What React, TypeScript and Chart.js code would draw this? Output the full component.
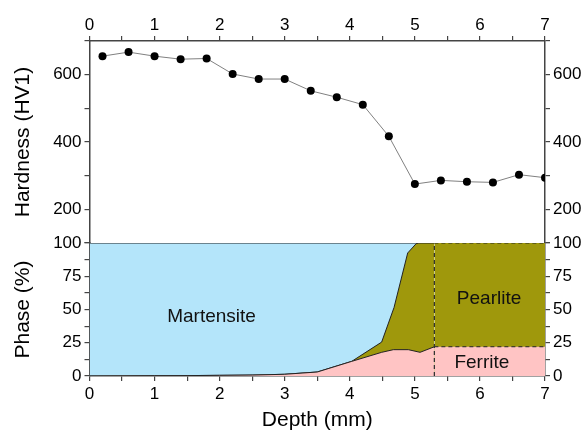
import React, { useEffect, useRef } from 'react';
import { Chart, registerables } from 'chart.js';

Chart.register(...registerables);

// ---------- data ----------
const hardnessDepth = [0.2, 0.6, 1.0, 1.4, 1.8, 2.2, 2.6, 3.0, 3.4, 3.8, 4.2, 4.6, 5.0, 5.4, 5.8, 6.2, 6.6, 7.0];
const hardnessValues = [655, 667, 655, 646, 648, 602, 587, 587, 552, 533, 511, 417, 275, 286, 282, 280, 303, 294];

const ferriteDepth = [0, 0.5, 1, 1.5, 2, 2.5, 3, 3.5, 4.03, 4.49, 4.67, 4.9, 5.08, 5.3, 7];
const ferriteValues = [0, 0.1, 0.2, 0.3, 0.5, 0.7, 1.3, 3, 11, 17.8, 19.8, 19.8, 17.8, 22, 22];

// cumulative ferrite + pearlite
const pearliteTopDepth = [0, 0.5, 1, 1.5, 2, 2.5, 3, 3.5, 4.03, 4.49, 4.68, 4.89, 5.02, 5.06, 5.3, 7];
const pearliteTopValues = [0, 0.1, 0.2, 0.3, 0.5, 0.7, 1.3, 3, 11, 25.5, 51.5, 92.5, 99.5, 100, 100, 100];

const martensiteDepth = [0, 5.3];
const martensiteValues = [100, 100];

const boundaryDepth = [5.3, 5.3];
const boundaryValues = [0, 100];

const depthTickLabels = [0, 1, 2, 3, 4, 5, 6, 7];
const hardnessTickLabels = [200, 400, 600];
const phaseTickLabels = [0, 25, 50, 75, 100];

const phaseNames = ['Martensite', 'Pearlite', 'Ferrite'];
const phaseNameDepth = [1.875, 6.14, 6.03];
const phaseNameValue = [44.5, 57.8, 10];

// ---------- style ----------
const FONT = "'Liberation Sans', Arial, sans-serif";
const AXIS = '#444444';
const BLUE = '#b4e5fa';
const OLIVE = '#9f980c';
const PINK = '#ffc4c4';
const DASH = [4, 3];
const DASH_FROM = 5.29;

const pts = (xs: number[], ys: number[]) => xs.map((x, i) => ({ x, y: ys[i] }));

const tickFont = { family: FONT, size: 17 };
const titleFont = { family: FONT, size: 21 };
const grid = { display: true, drawOnChartArea: false, drawTicks: true, tickLength: 5, color: AXIS, lineWidth: 1.2 };
const border = { display: true, color: AXIS, width: 1.5 };

const labelPlugin = {
  id: 'phaseLabels',
  afterDatasetsDraw(chart: any) {
    const { ctx } = chart;
    const xs = chart.scales.x;
    const ys = chart.scales.yP;
    ctx.save();
    ctx.font = `19px ${FONT}`;
    ctx.fillStyle = '#111';
    ctx.textAlign = 'center';
    ctx.textBaseline = 'middle';
    phaseNames.forEach((t, i) => {
      ctx.fillText(t, xs.getPixelForValue(phaseNameDepth[i]), ys.getPixelForValue(phaseNameValue[i]));
    });
    ctx.restore();
  },
};

export default function App() {
  const ref = useRef<HTMLCanvasElement | null>(null);

  useEffect(() => {
    document.body.style.margin = '0';
    const canvas = ref.current;
    if (!canvas) return;

    const dashSeg = {
      borderDash: (c: any) => (c.p0.parsed.x >= DASH_FROM ? DASH : undefined),
    };

    const xTicks = (v: any) => (depthTickLabels.includes(Number(v)) ? String(v) : '');
    const hTicks = (v: any) => (hardnessTickLabels.includes(Number(v)) ? String(v) : '');
    const pTicks = (v: any) => (phaseTickLabels.includes(Number(v)) ? String(v) : '');

    const xCommon = {
      type: 'linear',
      min: 0,
      max: 7,
      grid,
      border,
    };
    const xTickOpts = { stepSize: 0.5, autoSkip: false, maxRotation: 0, font: tickFont, color: '#000', callback: xTicks };
    const hCommon = {
      type: 'linear',
      min: 100,
      max: 700,
      stackWeight: 202,
      grid,
      border,
      ticks: { stepSize: 100, autoSkip: false, font: tickFont, color: '#000', padding: 3, callback: hTicks },
    };
    const pCommon = {
      type: 'linear',
      min: 0,
      max: 100,
      stackWeight: 133,
      grid,
      border,
      ticks: { stepSize: 12.5, autoSkip: false, font: tickFont, color: '#000', padding: 3, callback: pTicks },
    };

    const chart = new Chart(canvas, {
      type: 'line',
      data: {
        datasets: [
          {
            data: pts(hardnessDepth, hardnessValues),
            xAxisID: 'x',
            yAxisID: 'yH',
            borderColor: '#808080',
            borderWidth: 1,
            pointRadius: 4,
            pointBackgroundColor: '#000',
            pointBorderColor: '#000',
            pointBorderWidth: 0,
            fill: false,
            order: 0,
          },
          {
            data: pts(boundaryDepth, boundaryValues),
            xAxisID: 'x',
            yAxisID: 'yP',
            borderColor: '#333',
            borderWidth: 1.3,
            borderDash: DASH,
            pointRadius: 0,
            fill: false,
            order: 1,
          },
          {
            data: pts(ferriteDepth, ferriteValues),
            xAxisID: 'x',
            yAxisID: 'yP',
            borderColor: '#222',
            borderWidth: 1,
            backgroundColor: PINK,
            pointRadius: 0,
            fill: 'origin',
            segment: dashSeg,
            order: 2,
          },
          {
            data: pts(pearliteTopDepth, pearliteTopValues),
            xAxisID: 'x',
            yAxisID: 'yP',
            borderColor: '#222',
            borderWidth: 1,
            backgroundColor: OLIVE,
            pointRadius: 0,
            fill: 'origin',
            segment: dashSeg,
            order: 3,
          },
          {
            data: pts(martensiteDepth, martensiteValues),
            xAxisID: 'x',
            yAxisID: 'yP',
            borderColor: '#222',
            borderWidth: 1,
            backgroundColor: BLUE,
            pointRadius: 0,
            fill: 'origin',
            order: 4,
          },
        ],
      },
      options: {
        animation: false,
        responsive: false,
        events: [],
        layout: { padding: 0 },
        plugins: { legend: { display: false }, tooltip: { enabled: false } },
        elements: { line: { tension: 0 } },
        scales: {
          x: {
            ...xCommon,
            position: 'bottom',
            ticks: { ...xTickOpts, padding: 3 },
            title: { display: true, text: 'Depth (mm)', font: titleFont, color: '#000', padding: { top: 9, bottom: 0 } },
            afterFit: (s: any) => { s.height = 57; },
          },
          x2: {
            ...xCommon,
            position: 'top',
            ticks: { ...xTickOpts, padding: 0 },
            afterFit: (s: any) => { s.height = 41; },
          },
          yH: {
            ...hCommon,
            position: 'left',
            stack: 'left',
            weight: 1,
            title: { display: true, text: 'Hardness (HV1)', font: titleFont, color: '#000', padding: { top: 11, bottom: 0 } },
            afterFit: (s: any) => { s.width = 89.5; },
          },
          yP: {
            ...pCommon,
            position: 'left',
            stack: 'left',
            weight: 0,
            title: { display: true, text: 'Phase (%)', font: titleFont, color: '#000', padding: { top: 11, bottom: 0 } },
            afterFit: (s: any) => { s.width = 89.5; },
          },
          yHR: {
            ...hCommon,
            position: 'right',
            stack: 'right',
            weight: 0,
            afterFit: (s: any) => { s.width = 38; },
          },
          yPR: {
            ...pCommon,
            position: 'right',
            stack: 'right',
            weight: 1,
            afterFit: (s: any) => { s.width = 38; },
          },
        },
      } as any,
      plugins: [labelPlugin],
    } as any);

    return () => chart.destroy();
  }, []);

  return (
    <div style={{ width: 583, height: 433 }}>
      <canvas ref={ref} width={583} height={433} />
    </div>
  );
}
